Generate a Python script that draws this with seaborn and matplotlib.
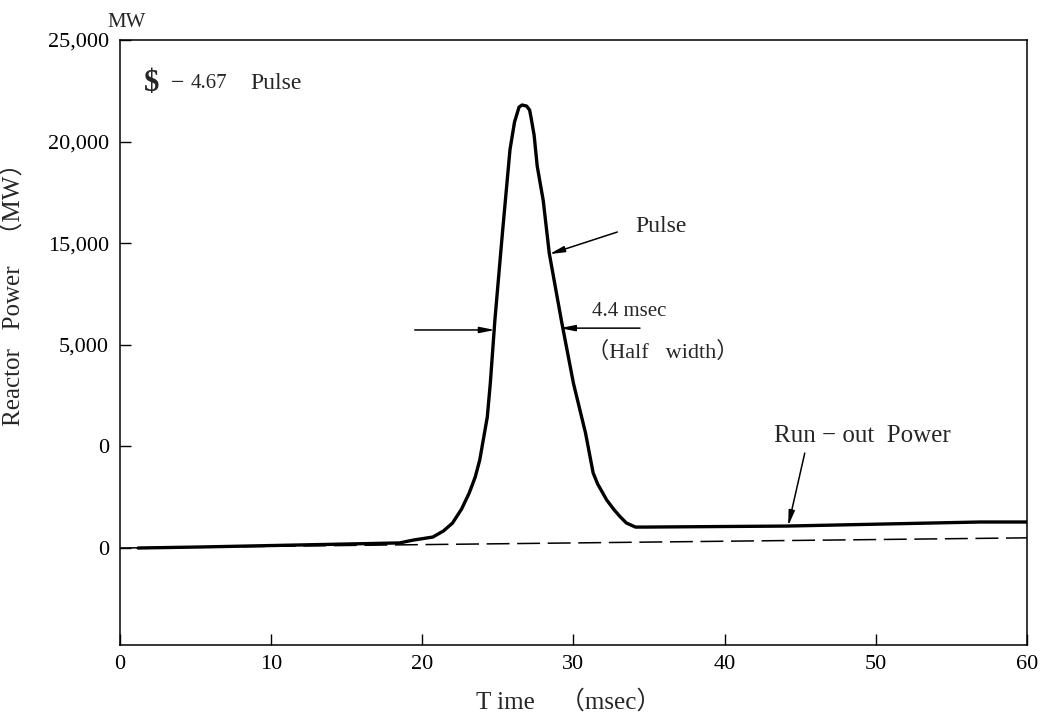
import matplotlib
matplotlib.use("Agg")
import matplotlib.pyplot as plt
import seaborn as sns
import pandas as pd

# ---- data ----
time_ms = [1.2, 5.3, 11.9, 18.5, 19.4, 20.7, 21.4, 22.0, 22.6, 23.1, 23.5, 23.8,
           24.3, 24.5, 24.8, 25.3, 25.8, 26.1, 26.4, 26.6, 26.9, 27.1, 27.2, 27.4,
           27.6, 28.0, 28.4, 29.2, 30.0, 30.8, 31.3, 31.6, 32.2, 32.7, 33.1, 33.5,
           34.1, 34.7, 44.1, 56.9, 60.0]
power_mw = [0, 50, 150, 250, 390, 540, 840, 1230, 1920, 2700, 3490, 4330,
            6450, 8120, 11200, 15500, 19600, 20960, 21700, 21800, 21750, 21550, 21160, 20300,
            18800, 17100, 14500, 11200, 8100, 5650, 3700, 3150, 2360, 1870, 1530, 1230,
            1030, 1030, 1080, 1280, 1280]
ref_time = [0, 60]
ref_power = [0, 500]

x_ticks = [0, 10, 20, 30, 40, 50, 60]
x_labels = ["0", "10", "20", "30", "40", "50", "60"]
y_ticks = [0, 5000, 10000, 15000, 20000, 25000]
y_labels = ["0", "0", "5,000", "15,000", "20,000", "25,000"]

sns.set_style("ticks")
plt.rcParams["font.family"] = ["Liberation Serif", "Noto Sans CJK JP"]
plt.rcParams["axes.linewidth"] = 1.1

fig = plt.figure(figsize=(10.44, 7.18), dpi=100)
ax = fig.add_axes([0.1149, 0.1017, 0.8688, 0.8426])

df = pd.DataFrame({"t": time_ms, "p": power_mw})
ref = pd.DataFrame({"t": ref_time, "p": ref_power})
sns.lineplot(data=ref, x="t", y="p", ax=ax, color="black", lw=1.1,
             dashes=False, linestyle=(0, (15, 5)))
sns.lineplot(data=df, x="t", y="p", ax=ax, color="black", lw=2.4, sort=False)
ax.lines[-1].set_solid_joinstyle("round")

ax.set_xlim(0, 60)
ax.set_ylim(-4772, 25000)
ax.set_xticks(x_ticks)
ax.set_xticklabels(x_labels)
ax.set_yticks(y_ticks)
ax.set_yticklabels(y_labels)
ax.tick_params(direction="in", length=8, width=1, labelsize=16, colors="black")
ax.tick_params(axis="x", pad=7)
ax.tick_params(axis="y", pad=8)
for s in ax.spines.values():
    s.set_visible(True)
    s.set_color("black")

ax.set_xlabel("T ime    （msec）", fontsize=18)
ax.set_ylabel("Reactor   Power   （MW）", fontsize=18)
ax.xaxis.set_label_coords(0.495, -0.074)
ax.yaxis.set_label_coords(-0.105, 0.59)

ax.text(0.46, 25880, "MW", fontsize=15, ha="center", va="center", clip_on=False)
ax.text(1.6, 22880, "$", fontsize=22, fontweight="bold", ha="left", va="center")
ax.text(3.4, 22880, "−", fontsize=17, ha="left", va="center")
ax.text(4.7, 22880, "4.67", fontsize=15, ha="left", va="center")
ax.text(8.6, 22880, "Pulse", fontsize=17, ha="left", va="center")

arrow = dict(arrowstyle="-|>,head_length=0.9,head_width=0.18", color="black", lw=1.1,
             shrinkA=0, shrinkB=0)
# Pulse
ax.text(34.1, 15800, "Pulse", fontsize=17, ha="left", va="center")
ax.annotate("", xy=(28.4, 14460), xytext=(32.9, 15550), arrowprops=arrow)
# half width
ax.annotate("", xy=(24.8, 10730), xytext=(19.5, 10730), arrowprops=arrow)
ax.annotate("", xy=(29.1, 10820), xytext=(34.4, 10820), arrowprops=arrow)
ax.text(31.2, 11660, "4.4 msec", fontsize=15, ha="left", va="center")
ax.text(30.9, 9640, "（Half   width）", fontsize=16, ha="left", va="center")
# run-out
ax.text(49.1, 5510, "Run − out  Power", fontsize=18, ha="center", va="center")
ax.annotate("", xy=(44.2, 1080), xytext=(45.3, 4670), arrowprops=arrow)

fig.savefig("out.png", dpi=100)
